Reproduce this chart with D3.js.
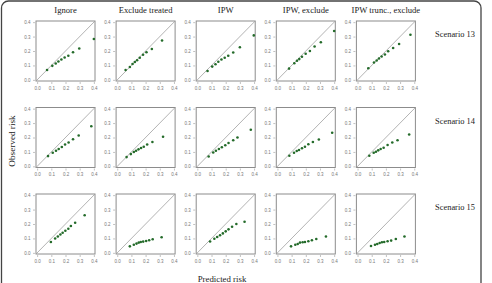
<!DOCTYPE html>
<html>
<head>
<meta charset="utf-8">
<script src="https://cdn.jsdelivr.net/npm/d3@7"></script>
<style>
    body { margin: 0; background: #fff; }
    .panel-title, .row-label, .axis-title { font-family: "Liberation Serif", "DejaVu Serif", serif; fill: #222; }
    .tick-label { font-family: "Liberation Sans", "DejaVu Sans", sans-serif; fill: #777; }
</style>
</head>
<body>
<div id="chart-area"></div>
<script>

// column headings and row labels
let methods = ["Ignore", "Exclude treated", "IPW", "IPW, exclude", "IPW trunc., exclude"];
let scenarios = ["Scenario 13", "Scenario 14", "Scenario 15"];
let tickValues = [0.0, 0.1, 0.2, 0.3, 0.4];

// predicted / observed risk per decile, one inner array per method
let pred13 = [
    [0.070, 0.107, 0.131, 0.150, 0.171, 0.194, 0.220, 0.253, 0.297, 0.400],
    [0.059, 0.089, 0.108, 0.124, 0.140, 0.159, 0.182, 0.206, 0.244, 0.316],
    [0.072, 0.105, 0.128, 0.148, 0.170, 0.193, 0.218, 0.253, 0.300, 0.398],
    [0.082, 0.119, 0.138, 0.154, 0.173, 0.199, 0.229, 0.262, 0.306, 0.400],
    [0.076, 0.116, 0.135, 0.151, 0.170, 0.193, 0.216, 0.251, 0.293, 0.373]
];
let obs13 = [
    [0.068, 0.097, 0.113, 0.127, 0.141, 0.155, 0.167, 0.191, 0.217, 0.283],
    [0.068, 0.089, 0.110, 0.124, 0.136, 0.153, 0.174, 0.191, 0.214, 0.273],
    [0.061, 0.092, 0.108, 0.125, 0.141, 0.153, 0.167, 0.190, 0.226, 0.308],
    [0.078, 0.115, 0.132, 0.144, 0.160, 0.181, 0.200, 0.231, 0.261, 0.339],
    [0.080, 0.120, 0.134, 0.148, 0.162, 0.176, 0.198, 0.221, 0.249, 0.313]
];
let pred14 = [
    [0.077, 0.110, 0.133, 0.152, 0.174, 0.197, 0.222, 0.253, 0.293, 0.382],
    [0.066, 0.096, 0.117, 0.133, 0.150, 0.168, 0.187, 0.211, 0.248, 0.323],
    [0.080, 0.112, 0.131, 0.152, 0.173, 0.197, 0.220, 0.253, 0.283, 0.377],
    [0.084, 0.117, 0.136, 0.152, 0.173, 0.194, 0.218, 0.250, 0.292, 0.386],
    [0.083, 0.114, 0.130, 0.146, 0.163, 0.184, 0.212, 0.245, 0.282, 0.364]
];
let obs14 = [
    [0.071, 0.094, 0.108, 0.120, 0.134, 0.151, 0.165, 0.188, 0.214, 0.278],
    [0.064, 0.085, 0.099, 0.108, 0.118, 0.127, 0.136, 0.151, 0.169, 0.205],
    [0.068, 0.096, 0.108, 0.120, 0.132, 0.146, 0.162, 0.181, 0.200, 0.254],
    [0.073, 0.094, 0.106, 0.113, 0.125, 0.136, 0.153, 0.169, 0.186, 0.233],
    [0.073, 0.094, 0.101, 0.111, 0.120, 0.129, 0.148, 0.165, 0.181, 0.221]
];
let pred15 = [
    [0.097, 0.127, 0.146, 0.164, 0.180, 0.199, 0.220, 0.238, 0.268, 0.335],
    [0.089, 0.117, 0.136, 0.152, 0.166, 0.183, 0.204, 0.225, 0.250, 0.313],
    [0.090, 0.120, 0.140, 0.160, 0.180, 0.200, 0.220, 0.245, 0.275, 0.333],
    [0.096, 0.126, 0.143, 0.159, 0.178, 0.194, 0.218, 0.243, 0.274, 0.342],
    [0.095, 0.123, 0.139, 0.156, 0.172, 0.188, 0.212, 0.237, 0.270, 0.331]
];
let obs15 = [
    [0.075, 0.099, 0.113, 0.127, 0.139, 0.153, 0.167, 0.186, 0.209, 0.261],
    [0.045, 0.056, 0.064, 0.071, 0.075, 0.078, 0.082, 0.087, 0.094, 0.108],
    [0.079, 0.098, 0.110, 0.122, 0.135, 0.149, 0.163, 0.181, 0.200, 0.216],
    [0.045, 0.056, 0.061, 0.071, 0.073, 0.075, 0.080, 0.087, 0.096, 0.113],
    [0.047, 0.056, 0.061, 0.068, 0.073, 0.075, 0.080, 0.085, 0.096, 0.113]
];

let predicted = [pred13, pred14, pred15];
let observed = [obs13, obs14, obs15];


class CalibrationGrid {

    constructor(parentElement) {
        this.parentElement = parentElement;
        this.pointColor = '#246b2a';
        this.initVis();
    }

    initVis() {
        let vis = this;

        vis.width = 492;
        vis.height = 283;

        // panel geometry
        vis.panelLeft = 36;
        vis.panelTop = 21;
        vis.panelW = 59;
        vis.panelH = 60;
        vis.colStep = 80.1;
        vis.rowStep = 86.5;

        vis.svg = d3.select("#" + vis.parentElement).append("svg")
            .attr("width", vis.width)
            .attr("height", vis.height);

        // rounded frame around everything
        vis.svg.append("rect")
            .attr("x", 1.5)
            .attr("y", 1)
            .attr("width", 479.5)
            .attr("height", 300)
            .attr("rx", 7)
            .attr("fill", "none")
            .attr("stroke", "#444")
            .attr("stroke-width", 1.3);

        vis.x = d3.scaleLinear()
            .domain([-0.008, 0.408])
            .range([0, vis.panelW]);

        vis.y = d3.scaleLinear()
            .domain([-0.008, 0.408])
            .range([vis.panelH, 0]);

        // column titles
        vis.svg.selectAll(".panel-title")
            .data(methods)
            .enter()
            .append("text")
            .attr("class", "panel-title")
            .attr("x", (d, i) => vis.panelLeft + i * vis.colStep + vis.panelW / 2)
            .attr("y", 12.5)
            .attr("text-anchor", "middle")
            .attr("font-size", 8.6)
            .text(d => d);

        // row labels on the right
        vis.svg.selectAll(".row-label")
            .data(scenarios)
            .enter()
            .append("text")
            .attr("class", "row-label")
            .attr("x", 455)
            .attr("y", (d, i) => vis.panelTop + i * vis.rowStep + 16)
            .attr("text-anchor", "middle")
            .attr("font-size", 8.4)
            .text(d => d);

        // axis titles
        vis.svg.append("text")
            .attr("class", "axis-title")
            .attr("transform", "translate(15,141) rotate(-90)")
            .attr("text-anchor", "middle")
            .attr("font-size", 9.2)
            .text("Observed risk");

        vis.svg.append("text")
            .attr("class", "axis-title")
            .attr("x", 222)
            .attr("y", 281.5)
            .attr("text-anchor", "middle")
            .attr("font-size", 8.8)
            .text("Predicted risk");

        this.wrangleData();
    }

    wrangleData() {
        let vis = this;

        vis.displayData = [];
        scenarios.forEach((s, r) => {
            methods.forEach((m, c) => {
                vis.displayData.push({
                    row: r,
                    col: c,
                    points: predicted[r][c].map((p, k) => ({pred: p, obs: observed[r][c][k]}))
                });
            });
        });

        vis.updateVis();
    }

    updateVis() {
        let vis = this;

        let panels = vis.svg.selectAll(".panel")
            .data(vis.displayData)
            .enter()
            .append("g")
            .attr("class", "panel")
            .attr("transform", d => "translate(" + (vis.panelLeft + d.col * vis.colStep) + "," + (vis.panelTop + d.row * vis.rowStep) + ")");

        panels.each(function (d) {
            let g = d3.select(this);

            // axes
            let xAxis = d3.axisBottom(vis.x)
                .tickValues(tickValues)
                .tickSize(2)
                .tickPadding(2.5)
                .tickFormat(d3.format(".1f"));

            let yAxis = d3.axisLeft(vis.y)
                .tickValues(tickValues)
                .tickSize(2)
                .tickPadding(2.5)
                .tickFormat(d3.format(".1f"));

            let gx = g.append("g")
                .attr("transform", "translate(0," + (vis.panelH + 1) + ")")
                .call(xAxis);
            let gy = g.append("g")
                .attr("transform", "translate(-1,0)")
                .call(yAxis);

            [gx, gy].forEach(a => {
                a.select(".domain").remove();
                a.selectAll(".tick line").attr("stroke", "#999").attr("stroke-width", 0.6);
                a.selectAll(".tick text")
                    .attr("class", "tick-label")
                    .attr("font-size", 4.5)
                    .attr("fill", "#777");
            });

            // box
            g.append("rect")
                .attr("width", vis.panelW)
                .attr("height", vis.panelH)
                .attr("fill", "none")
                .attr("stroke", "#8c8c8c")
                .attr("stroke-width", 1);

            // identity line
            g.append("line")
                .attr("x1", vis.x(-0.008))
                .attr("y1", vis.y(-0.008))
                .attr("x2", vis.x(0.408))
                .attr("y2", vis.y(0.408))
                .attr("stroke", "#a0a0a0")
                .attr("stroke-width", 0.8);

            // decile points
            g.selectAll(".pt")
                .data(d.points)
                .enter()
                .append("circle")
                .attr("class", "pt")
                .attr("cx", p => vis.x(p.pred))
                .attr("cy", p => vis.y(p.obs))
                .attr("r", 1.3)
                .attr("fill", vis.pointColor);
        });
    }
}

new CalibrationGrid("chart-area");

</script>
</body>
</html>
